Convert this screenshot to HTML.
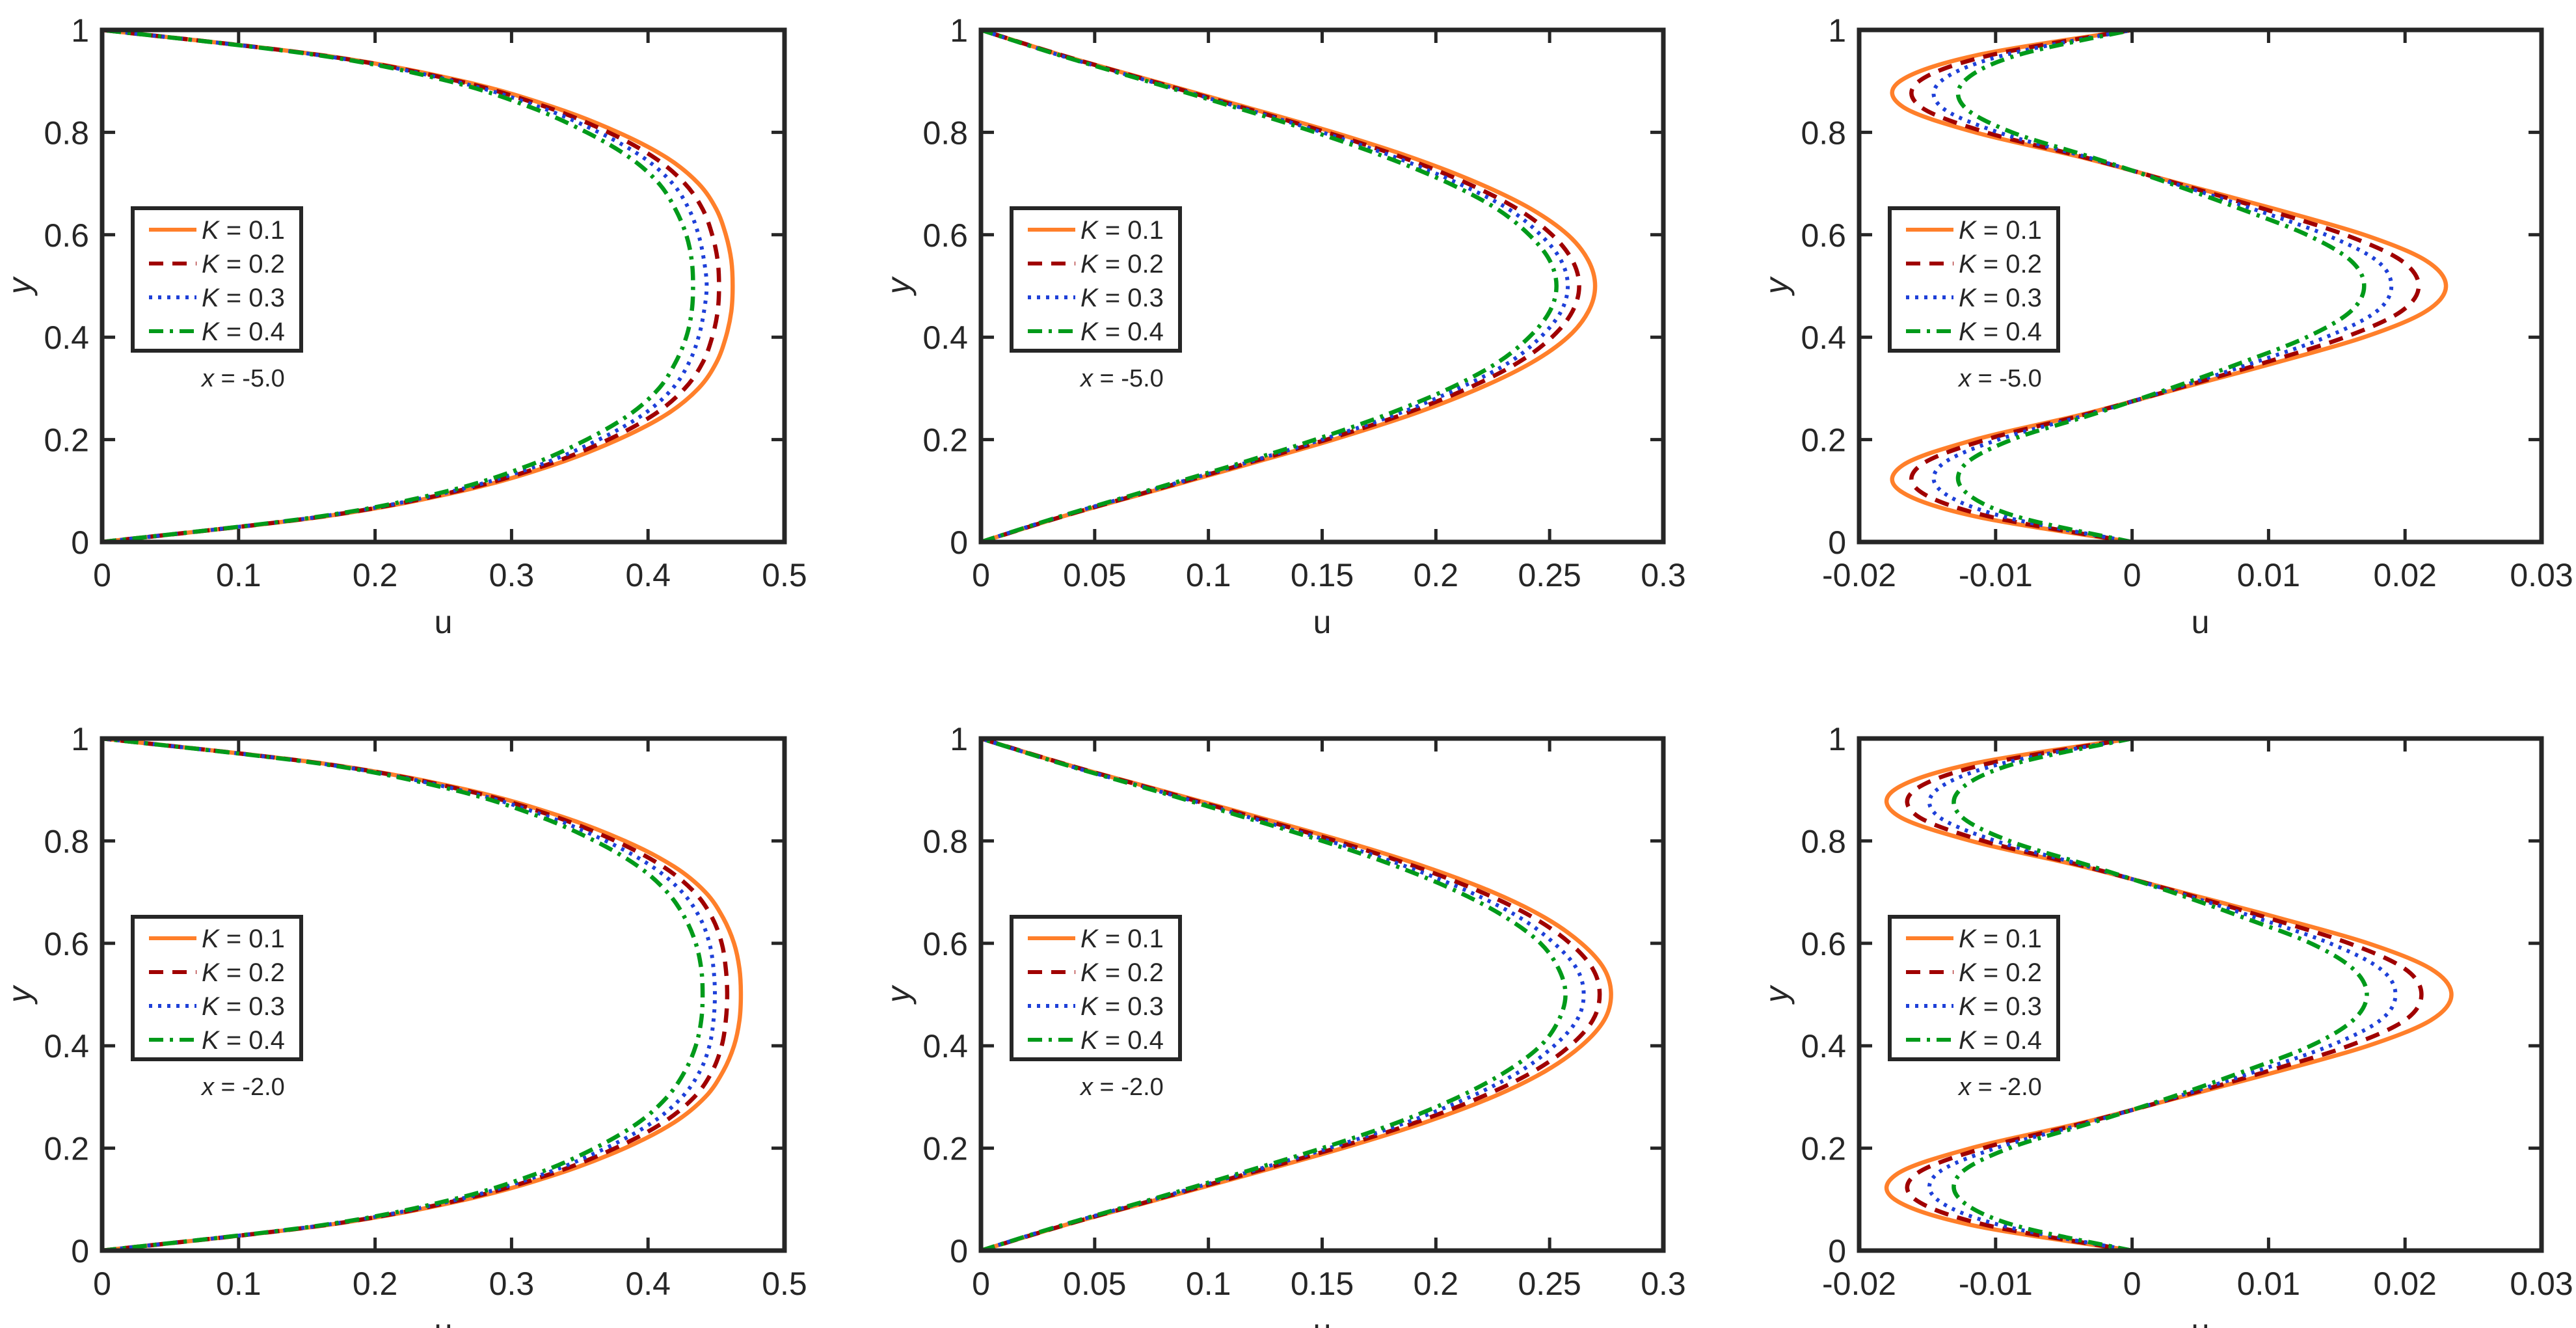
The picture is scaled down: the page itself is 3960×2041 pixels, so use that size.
<!DOCTYPE html>
<html><head><meta charset="utf-8">
<style>
html,body{margin:0;padding:0;background:#fff;}
svg{display:block;}
text{font-family:"Liberation Sans",Arial,sans-serif;fill:#262626;}
</style></head>
<body>
<svg id="fig" width="3960" height="2041" viewBox="0 0 3960 2041" xmlns="http://www.w3.org/2000/svg"></svg>
<script>
// ---- data ----
const yGrid = [0,0.05,0.1,0.15,0.2,0.25,0.3,0.35,0.4,0.45,0.5,0.55,0.6,0.65,0.7,0.75,0.8,0.85,0.9,0.95,1];
const seriesLabels = ["K = 0.1","K = 0.2","K = 0.3","K = 0.4"];
const xTicks1 = [0,0.1,0.2,0.3,0.4,0.5];
const xTicks2 = [0,0.05,0.1,0.15,0.2,0.25,0.3];
const xTicks3 = [-0.02,-0.01,0,0.01,0.02,0.03];
const yTicks = [0,0.2,0.4,0.6,0.8,1];
const annotations = ["x = -5.0","x = -2.0"];
// panel (row 1, col 1)
const p11_k1 = [0,.163,.264,.330,.378,.414,.437,.450,.457,.461,.462,.461,.457,.450,.437,.414,.378,.330,.264,.163,0];
const p11_k2 = [0,.162,.261,.325,.371,.405,.427,.440,.447,.451,.452,.451,.447,.440,.427,.405,.371,.325,.261,.162,0];
const p11_k3 = [0,.161,.258,.320,.364,.397,.418,.430,.437,.441,.443,.441,.437,.430,.418,.397,.364,.320,.258,.161,0];
const p11_k4 = [0,.160,.254,.313,.355,.387,.408,.420,.428,.432,.433,.432,.428,.420,.408,.387,.355,.313,.254,.160,0];
// panel (row 1, col 2)
const p12_k1 = [0,.036,.076,.116,.155,.190,.219,.242,.258,.267,.270,.267,.258,.242,.219,.190,.155,.116,.076,.036,0];
const p12_k2 = [0,.036,.075,.114,.152,.186,.214,.236,.251,.260,.263,.260,.251,.236,.214,.186,.152,.114,.075,.036,0];
const p12_k3 = [0,.035,.074,.113,.150,.183,.210,.232,.246,.255,.258,.255,.246,.232,.210,.183,.150,.113,.074,.035,0];
const p12_k4 = [0,.035,.073,.111,.147,.179,.206,.227,.241,.250,.253,.250,.241,.227,.206,.179,.147,.111,.073,.035,0];
// panel (row 1, col 3)
const p13_k1 = [0,-.0115,-.0170,-.0168,-.0115,-.0035,.0035,.0105,.0170,.0215,.0230,.0215,.0170,.0105,.0035,-.0035,-.0115,-.0168,-.0170,-.0115,0];
const p13_k2 = [0,-.0105,-.0156,-.0155,-.0107,-.0033,.0033,.0097,.0156,.0197,.0210,.0197,.0156,.0097,.0033,-.0033,-.0107,-.0155,-.0156,-.0105,0];
const p13_k3 = [0,-.0095,-.0140,-.0140,-.0098,-.0031,.0031,.0089,.0142,.0179,.0190,.0179,.0142,.0089,.0031,-.0031,-.0098,-.0140,-.0140,-.0095,0];
const p13_k4 = [0,-.0085,-.0123,-.0123,-.0088,-.0028,.0028,.0080,.0128,.0160,.0170,.0160,.0128,.0080,.0028,-.0028,-.0088,-.0123,-.0123,-.0085,0];
// panel (row 2, col 1)
const p21_k1 = [0,.165,.267,.334,.383,.419,.442,.455,.463,.467,.468,.467,.463,.455,.442,.419,.383,.334,.267,.165,0];
const p21_k2 = [0,.164,.264,.329,.376,.411,.434,.447,.454,.457,.458,.457,.454,.447,.434,.411,.376,.329,.264,.164,0];
const p21_k3 = [0,.163,.261,.324,.369,.403,.425,.438,.445,.448,.449,.448,.445,.438,.425,.403,.369,.324,.261,.163,0];
const p21_k4 = [0,.162,.257,.318,.361,.393,.414,.427,.435,.439,.440,.439,.435,.427,.414,.393,.361,.318,.257,.162,0];
// panel (row 2, col 2)
const p22_k1 = [0,.037,.078,.119,.159,.195,.225,.248,.264,.274,.277,.274,.264,.248,.225,.195,.159,.119,.078,.037,0];
const p22_k2 = [0,.037,.077,.117,.156,.191,.220,.243,.259,.269,.272,.269,.259,.243,.220,.191,.156,.117,.077,.037,0];
const p22_k3 = [0,.036,.076,.115,.153,.187,.215,.237,.252,.262,.265,.262,.252,.237,.215,.187,.153,.115,.076,.036,0];
const p22_k4 = [0,.036,.075,.113,.150,.183,.210,.231,.246,.254,.257,.254,.246,.231,.210,.183,.150,.113,.075,.036,0];
// panel (row 2, col 3)
const p23_k1 = [0,-.0118,-.0174,-.0172,-.0118,-.0036,.0036,.0107,.0173,.0219,.0234,.0219,.0173,.0107,.0036,-.0036,-.0118,-.0172,-.0174,-.0118,0];
const p23_k2 = [0,-.0107,-.0159,-.0158,-.0109,-.0034,.0034,.0099,.0159,.0200,.0212,.0200,.0159,.0099,.0034,-.0034,-.0109,-.0158,-.0159,-.0107,0];
const p23_k3 = [0,-.0097,-.0143,-.0143,-.0100,-.0032,.0032,.0091,.0145,.0182,.0193,.0182,.0145,.0091,.0032,-.0032,-.0100,-.0143,-.0143,-.0097,0];
const p23_k4 = [0,-.0087,-.0126,-.0126,-.0090,-.0029,.0029,.0082,.0131,.0162,.0172,.0162,.0131,.0082,.0029,-.0029,-.0090,-.0126,-.0126,-.0087,0];

// ---- rendering ----
const NS="http://www.w3.org/2000/svg";
const svg=document.getElementById('fig');
function mk(tag,attrs,parent){const e=document.createElementNS(NS,tag);for(const k in attrs)e.setAttribute(k,attrs[k]);(parent||svg).appendChild(e);return e;}
const cols=[157,1508,2858], rows=[46,1135], W=1049, H=787;
const colDomains=[[0,0.5],[0,0.3],[-0.02,0.03]];
const colTicks=[xTicks1,xTicks2,xTicks3];
const colors=["#FF7F2A","#A00000","#1E40D8","#009A1A"];
const dashes=["none","22 14","5 9","22 10 5 10"];
const panelData=[[ [p11_k1,p11_k2,p11_k3,p11_k4],[p12_k1,p12_k2,p12_k3,p12_k4],[p13_k1,p13_k2,p13_k3,p13_k4] ],
                 [ [p21_k1,p21_k2,p21_k3,p21_k4],[p22_k1,p22_k2,p22_k3,p22_k4],[p23_k1,p23_k2,p23_k3,p23_k4] ]];
function fmt(v){return String(+v.toFixed(3));}
function catmull(pts){let d="M"+pts[0][0]+","+pts[0][1];for(let i=0;i<pts.length-1;i++){const p0=pts[Math.max(i-1,0)],p1=pts[i],p2=pts[i+1],p3=pts[Math.min(i+2,pts.length-1)];
 const c1=[p1[0]+(p2[0]-p0[0])/6,p1[1]+(p2[1]-p0[1])/6],c2=[p2[0]-(p3[0]-p1[0])/6,p2[1]-(p3[1]-p1[1])/6];
 d+=" C"+c1[0].toFixed(1)+","+c1[1].toFixed(1)+" "+c2[0].toFixed(1)+","+c2[1].toFixed(1)+" "+p2[0].toFixed(1)+","+p2[1].toFixed(1);}return d;}

for(let r=0;r<2;r++)for(let c=0;c<3;c++){
 const x0=cols[c],y0=rows[r],dom=colDomains[c];
 const sx=v=>x0+(v-dom[0])/(dom[1]-dom[0])*W;
 const sy=v=>y0+H-v*H;
 const g=mk('g',{});
 
 
 mk('rect',{x:x0,y:y0,width:W,height:H,fill:'#fff'},g);
 const clip=mk('clipPath',{id:'cl'+r+c},g);mk('rect',{x:x0,y:y0,width:W,height:H},clip);
 panelData[r][c].forEach((arr,k)=>{
   const pts=arr.map((u,i)=>[sx(u),sy(yGrid[i])]);
   const p=mk('path',{d:catmull(pts),fill:'none',stroke:colors[k],'stroke-width':k==2?6:6.5,'stroke-dasharray':dashes[k],'clip-path':'url(#cl'+r+c+')'},g);
   
   
 });
 colTicks[c].forEach(t=>{const X=sx(t);
   mk('line',{x1:X,y1:y0+H,x2:X,y2:y0+H-20,stroke:'#262626','stroke-width':5},g);
   mk('line',{x1:X,y1:y0,x2:X,y2:y0+20,stroke:'#262626','stroke-width':5},g);
   const tl=mk('text',{x:X,y:y0+H+68,'font-size':50,'text-anchor':'middle'},g);tl.textContent=fmt(t);
   
   
 });
 yTicks.forEach(t=>{const Y=sy(t);
   mk('line',{x1:x0,y1:Y,x2:x0+20,y2:Y,stroke:'#262626','stroke-width':5},g);
   mk('line',{x1:x0+W,y1:Y,x2:x0+W-20,y2:Y,stroke:'#262626','stroke-width':5},g);
   const tl=mk('text',{x:x0-20,y:Y+18,'font-size':50,'text-anchor':'end'},g);tl.textContent=fmt(t);
   
   
 });
 mk('rect',{x:x0,y:y0,width:W,height:H,fill:'none',stroke:'#262626','stroke-width':7},g);
 const xl=mk('text',{x:x0+W/2,y:y0+H+140,'font-size':50,'text-anchor':'middle'},g);xl.textContent='u';
 
 
 const yx=x0-110,yy=y0+H/2;
 const yl=mk('text',{x:yx,y:yy,'font-size':50,'font-style':'italic','text-anchor':'middle',transform:'rotate(-90 '+yx+' '+yy+')'},g);yl.textContent='y';
 
 
 const lx=x0+47,ly=y0+274;
 const lg=mk('g',{},g);
 
 
 mk('rect',{x:lx,y:ly,width:259,height:219,fill:'#fff',stroke:'#262626','stroke-width':6},lg);
 seriesLabels.forEach((lab,k)=>{const ey=ly+33+k*52;
   const e=mk('g',{},lg);
   
   
   mk('line',{x1:lx+25,y1:ey,x2:lx+98,y2:ey,stroke:colors[k],'stroke-width':6,'stroke-dasharray':dashes[k]},e);
   const t=mk('text',{x:lx+106,y:ey+14,'font-size':40},e);
   const ts=mk('tspan',{'font-style':'italic'},t);ts.textContent='K';
   const t2=mk('tspan',{},t);t2.textContent=lab.slice(1);
 });
 const an=mk('text',{x:x0+153,y:y0+548,'font-size':38},g);
 
 
 const a1=mk('tspan',{'font-style':'italic'},an);a1.textContent='x';
 const a2=mk('tspan',{},an);a2.textContent=annotations[r].slice(1);
}
</script>
</body></html>
